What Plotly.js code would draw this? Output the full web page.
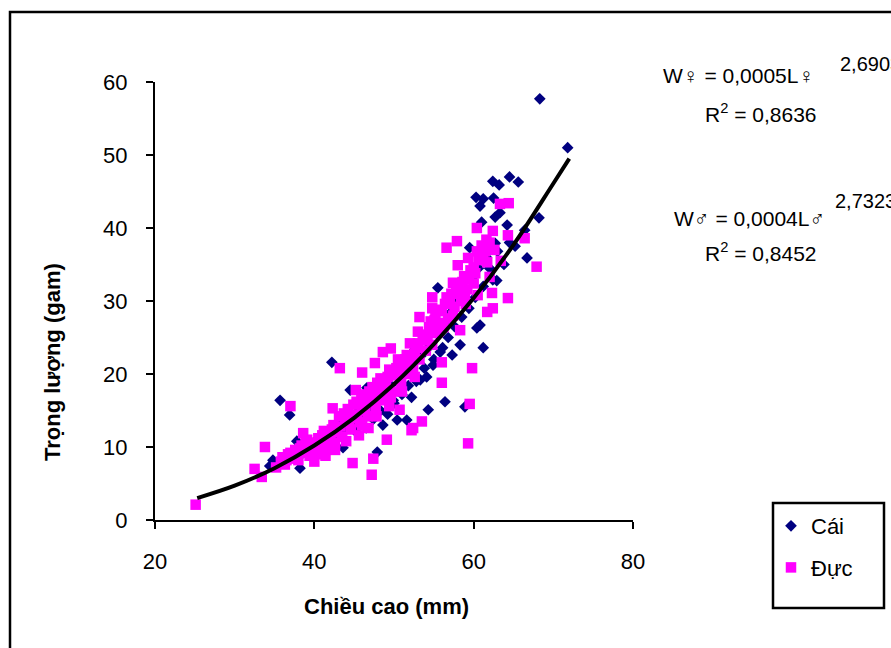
<!DOCTYPE html>
<html>
<head>
<meta charset="utf-8">
<script src="https://cdn.plot.ly/plotly-3.0.1.min.js"></script>
<style>html,body{margin:0;padding:0;background:#fff;}#chart{width:891px;height:648px;}</style>
</head>
<body>
<div id="chart"></div>
<script>
// ---- Data ----
var seriesNames = ["Cái", "Đực"];

var caiL = [68.3,71.8,64.5,65.6,62.4,63.2,60.3,61.2,60.8,62.5,62.7,63.3,61.0,64.2,68.2,59.5,62.7,66.7,66.4,62.4,62.9,60.8,60.4,61.2,58.3,57.3,56.1,52.6,54.9,54.1,53.3,52.2,54.3,56.4,58.9,51.6,50.4,49.9,48.6,47.9,43.6,44.5,46.6,42.2,35.7,36.9,37.8,34.4,38.2,55.5,
  36.0,36.8,37.5,38.4,39.0,39.6,40.3,40.8,41.5,42.0,42.6,43.2,43.8,44.3,44.8,45.3,45.6,46.1,46.5,47.0,47.4,47.9,48.3,48.8,49.2,49.6,50.0,50.5,51.0,51.3,51.8,52.4,52.8,53.4,53.8,54.5,55.0,55.4,55.8,56.3,56.8,57.2,57.6,58.1,58.5,59.0,59.4,59.8,60.2,60.6,61.2,61.6,62.0,63.0,63.8,64.5,65.2,34.8,35.5];
var caiW = [57.7,51.0,47.0,46.3,46.4,45.9,44.2,44.0,43.0,44.1,41.5,42.1,40.8,40.4,41.4,37.3,37.9,35.9,39.7,32.9,32.8,26.7,26.3,23.6,24.0,22.6,23.6,23.3,21.2,19.6,19.2,16.8,15.1,16.2,15.5,13.7,13.7,16.4,13.0,9.3,9.9,17.8,18.1,21.6,16.4,14.4,10.8,7.4,7.1,31.8,
  8.0,8.8,9.5,9.0,10.2,9.4,11.0,10.3,11.8,12.4,11.2,13.0,12.2,14.2,13.0,12.0,15.0,14.0,12.6,15.6,13.8,16.8,15.0,17.6,14.5,18.5,16.0,19.6,17.2,20.5,18.4,21.6,19.0,22.5,20.8,23.8,22.0,25.5,23.0,27.0,25.0,28.5,26.5,30.0,27.8,31.5,29.0,33.0,30.5,34.5,32.0,36.0,34.5,36.8,35.0,38.0,37.5,8.2,7.6];

var ducL = [25.1,32.5,33.4,33.8,37.0,42.3,43.2,44.8,47.2,47.4,49.1,52.2,53.5,56.0,59.8,59.5,59.3,64.3,67.9,64.4,63.3,66.4,60.4,62.4,64.3,57.9,56.6,61.2,61.7,58.0,59.3,62.0,60.2,57.4,54.8,56.6,58.9,62.3,60.5,61.7,62.4,56.0,54.8,53.2,55.1,58.3,53.0,54.8,52.0,56.0,50.7,51.6,50.7,52.4,48.6,49.6,47.6,46.0,45.2,
  35.2,35.8,36.3,36.7,37.2,37.6,38.0,38.4,38.8,39.1,39.4,39.8,40.2,40.5,40.9,41.2,41.6,42.0,42.4,42.8,43.1,43.5,43.9,44.2,44.6,45.0,45.3,45.7,46.0,46.3,46.7,47.0,47.3,47.7,48.0,48.3,48.7,49.0,49.4,49.8,50.1,50.5,50.9,51.2,51.6,52.0,52.4,52.8,53.2,53.6,54.0,54.4,54.8,55.2,55.6,56.0,56.4,56.8,57.2,57.6,58.0,58.4,58.8,59.2,59.6,60.0,60.6,61.0,61.6,62.6,63.4,
  38.6,40.0,41.4,42.6,44.0,45.6,46.8,
  36.0,36.5,37.0,37.8,38.2,38.9,39.5,40.0,40.7,41.0,41.8,42.2,42.6,43.3,43.7,44.4,44.9,45.4,45.9,46.4,46.9,47.5,47.9,48.5,49.2,49.6,50.3,50.8,51.4,51.9,52.6,53.0,53.8,54.2,54.6,55.4,55.8,56.2,57.0,57.4,57.8,58.6,59.0,59.4,60.0,60.4,61.4,62.0,52.6,51.0,49.4,47.8,46.0];
var ducW = [2.1,7.0,5.9,10.0,15.6,15.3,20.8,7.8,6.2,8.4,11.0,12.3,13.5,18.8,20.8,15.9,10.5,30.4,34.7,43.4,43.3,38.6,40.0,39.6,39.0,38.2,37.3,36.3,35.3,34.9,35.9,33.3,33.8,32.5,30.5,30.5,30.8,31.1,30.8,28.5,29.0,28.8,29.0,27.8,27.4,26.0,25.8,25.6,24.2,21.6,21.0,22.6,15.1,12.6,23.0,23.5,21.5,20.2,17.8,
  7.2,8.0,7.6,9.0,8.4,9.6,8.2,10.2,9.2,11.0,8.8,10.0,9.0,11.2,10.4,12.2,9.8,11.4,13.0,12.0,14.2,11.4,13.4,15.2,12.4,14.4,16.2,13.4,15.4,17.2,14.2,16.4,18.2,15.2,17.4,19.4,16.4,18.6,20.6,17.6,19.8,22.0,18.8,21.0,20.0,22.4,20.8,23.6,22.0,24.6,23.2,26.4,24.0,28.0,25.8,27.0,29.6,27.6,31.0,29.2,32.0,30.0,33.4,31.6,34.2,32.4,35.6,37.6,38.4,37.0,35.5,
  11.9,8.0,8.8,9.6,10.8,11.6,12.6,
  8.6,8.2,9.2,8.8,9.8,10.6,9.6,10.6,9.6,11.6,10.8,12.4,10.6,12.8,14.6,13.6,15.8,14.0,16.6,15.0,17.6,16.6,18.8,17.8,19.6,16.8,20.8,20.2,22.0,21.2,22.8,24.2,25.4,24.8,27.2,26.6,28.6,26.4,29.8,28.0,31.2,32.6,29.6,33.0,34.6,36.8,36.8,38.0,19.6,17.6,15.6,14.2,13.0];

// Trendline as drawn in the picture
var trendL = [25.3,30,35,40,45,50,55,60,65,70,72];
var trendW = [3.0,4.7,7.1,10.2,14.0,18.6,24.1,30.4,37.7,46.1,49.5];

var xTicks = [20,40,60,80];
var yTicks = [0,10,20,30,40,50,60];

var eqFemale = "W♀ = 0,0005L♀", expFemale = "2,6903", r2Female = "R<sup>2</sup> = 0,8636";
var eqMale = "W♂ = 0,0004L♂", expMale = "2,7323", r2Male = "R<sup>2</sup> = 0,8452";
var xTitle = "Chiều cao (mm)", yTitle = "Trọng lượng (gam)";

// ---- Layout helpers (pixel -> paper) ----
var W = 891, H = 648, L0 = 155, R0 = 633, T0 = 82, B0 = 520;
function px(x){ return (x - L0) / (R0 - L0); }
function py(y){ return (B0 - y) / (B0 - T0); }
var FONT = "Liberation Sans, Arial, DejaVu Sans, sans-serif";

var traces = [
  {x: caiL, y: caiW, name: seriesNames[0], type: "scatter", mode: "markers", legendgroup: "a",
   marker: {symbol: "diamond", size: 9, color: "#000080", line: {width: 0}}},
  {x: ducL, y: ducW, name: seriesNames[1], type: "scatter", mode: "markers", legendgroup: "b",
   marker: {symbol: "square", size: 10.5, color: "#FF00FF", line: {width: 0}}},
  {x: trendL, y: trendW, type: "scatter", mode: "lines", showlegend: false, hoverinfo: "skip",
   line: {color: "#000000", width: 4, shape: "spline"}}
];

var axisCommon = {
  showgrid: false, zeroline: false, showline: true, linecolor: "#000", linewidth: 2,
  ticks: "outside", ticklen: 7, tickwidth: 2, tickcolor: "#000",
  tickfont: {family: FONT, size: 22, color: "#000"}
};

var layout = {
  width: W, height: H,
  margin: {l: L0, r: W - R0, t: T0, b: H - B0, pad: 0},
  paper_bgcolor: "#fff", plot_bgcolor: "#fff",
  font: {family: FONT, color: "#000"},
  xaxis: Object.assign({}, axisCommon, {range: [20, 80], tickvals: xTicks, ticklabelstandoff: 14}),
  yaxis: Object.assign({}, axisCommon, {range: [0, 60], tickvals: yTicks, ticklabelstandoff: 14}),
  showlegend: true,
  legend: {x: px(771), y: py(505), xanchor: "left", yanchor: "top", bgcolor: "rgba(0,0,0,0)",
           borderwidth: 0, font: {family: FONT, size: 22, color: "#000"},
           traceorder: "grouped", tracegroupgap: 10},
  shapes: [
    {type: "rect", xref: "paper", yref: "paper", x0: px(10), x1: px(900), y0: py(660), y1: py(12),
     line: {color: "#000", width: 2.5}, fillcolor: "rgba(0,0,0,0)"},
    {type: "rect", xref: "paper", yref: "paper", x0: px(773), x1: px(884), y0: py(608), y1: py(503),
     line: {color: "#000", width: 2.5}, fillcolor: "rgba(0,0,0,0)"}
  ],
  annotations: [
    {xref: "paper", yref: "paper", x: px(386), y: py(606), text: "<b>" + xTitle + "</b>", showarrow: false,
     xanchor: "center", yanchor: "middle", font: {family: FONT, size: 22}},
    {xref: "paper", yref: "paper", x: px(52), y: py(362), text: "<b>" + yTitle + "</b>", showarrow: false,
     textangle: -90, xanchor: "center", yanchor: "middle", font: {family: FONT, size: 22}},
    {xref: "paper", yref: "paper", x: px(661), y: py(75), text: eqFemale, showarrow: false,
     xanchor: "left", yanchor: "middle", font: {family: FONT, size: 21}},
    {xref: "paper", yref: "paper", x: px(838), y: py(64), text: expFemale, showarrow: false,
     xanchor: "left", yanchor: "middle", font: {family: FONT, size: 20}},
    {xref: "paper", yref: "paper", x: px(703), y: py(113), text: r2Female, showarrow: false,
     xanchor: "left", yanchor: "middle", font: {family: FONT, size: 21}},
    {xref: "paper", yref: "paper", x: px(672), y: py(218), text: eqMale, showarrow: false,
     xanchor: "left", yanchor: "middle", font: {family: FONT, size: 21}},
    {xref: "paper", yref: "paper", x: px(833), y: py(201), text: expMale, showarrow: false,
     xanchor: "left", yanchor: "middle", font: {family: FONT, size: 20}},
    {xref: "paper", yref: "paper", x: px(703), y: py(252), text: r2Male, showarrow: false,
     xanchor: "left", yanchor: "middle", font: {family: FONT, size: 21}}
  ]
};

Plotly.newPlot("chart", traces, layout, {displayModeBar: false, staticPlot: true});
</script>
</body>
</html>
